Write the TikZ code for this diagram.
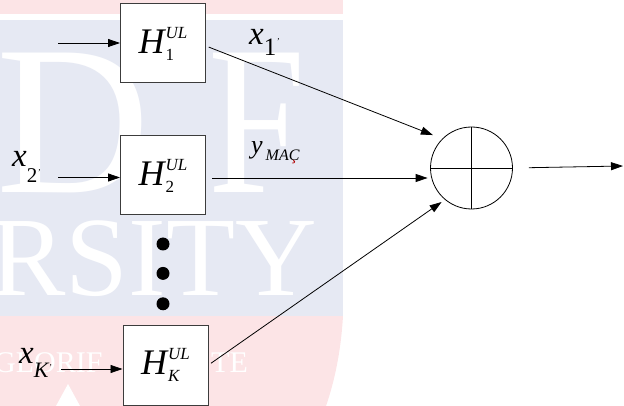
\documentclass[tikz,border=0pt]{standalone}
\usepackage{fontspec}
\setmainfont{Liberation Serif}
\usetikzlibrary{arrows.meta,positioning}

\definecolor{wmblue}{RGB}{230,233,243}
\definecolor{wmpink}{RGB}{252,228,230}
\definecolor{boxgray}{RGB}{60,60,60}

\newcommand{\bigsize}{\fontsize{36}{36}\selectfont}
\newcommand{\smallsize}{\fontsize{17}{17}\selectfont}
\newcommand{\xsize}{\fontsize{33}{33}\selectfont}
\newcommand{\hul}[1]{{\bigsize\itshape H}\kern1pt\rlap{\raisebox{-7pt}{\smallsize #1}}\raisebox{15pt}{\smallsize\itshape UL}}
\newcommand{\tick}{{\fontsize{9}{9}\selectfont\itshape '}}

\begin{document}
\begin{tikzpicture}[x=1pt, y=-1pt,
  block/.style={rectangle, draw=boxgray, fill=white, line width=1pt, minimum width=85pt, minimum height=79pt, inner sep=0pt},
  line/.style={draw, line width=0.8pt, -{Triangle[length=12pt,width=8pt]}},
  dot/.style={circle, fill=black, minimum size=13pt, inner sep=0pt},
  lab/.style={anchor=base west, inner sep=0pt},
  wm/.style={text=white, inner sep=0pt, anchor=base west}]

  \useasboundingbox (0,0) rectangle (624,406);

  % watermark behind the diagram
  \begin{scope}
    \clip (0,0) rectangle (624,406);
    \fill[wmpink] (0,0) rectangle (343,14);
    \fill[wmblue] (0,20) rectangle (343,316);
    \fill[wmpink] (0,316) -- (343,316) .. controls (341,350) and (335,380) .. (326,406) -- (0,406) -- cycle;
    \fill[white] (68,384) -- (80,406) -- (56,406) -- cycle;
    \node[wm, font=\fontsize{213}{213}\selectfont] (wmd) at (-4,193) {D};
    \node[wm, font=\fontsize{213}{213}\selectfont] (wmf) at (208,193) {\scalebox{0.82}[1]{F}};
    \node[wm, font=\fontsize{113}{113}\selectfont] (wmrsity) at (-10,295) {RSITY};
    \node[wm, font=\fontsize{30}{30}\selectfont] (wmglorif) at (-6,372) {GLORIF};
    \node[wm, font=\fontsize{30}{30}\selectfont] (wmte) at (211,372) {TE};
  \end{scope}

  \node[block] (h1) at (163,43.5) {\hul{1}};
  \node[block, below=52pt of h1] (h2) {\hul{2}};
  \node[dot] (d1) at (163,244) {};
  \node[dot, below=16pt of d1] (d2) {};
  \node[dot, below=17pt of d2] (d3) {};
  \node[block, minimum height=80pt] (hk) at (165.5,365) {\hul{\itshape K}};
  \node[circle, draw, line width=0.8pt, minimum size=82pt, inner sep=0pt] (sum) at (471.5,168) {};

  \coordinate (in1) at (58,43);
  \coordinate (in2) at (58,177.5);
  \coordinate (ink) at (61,369);
  \coordinate (out) at (623,166);

  % labels
  \node[lab] (x1) at (249,45) {\xsize\itshape x\upshape\raisebox{-11pt}{\fontsize{25}{25}\selectfont 1}\raisebox{0pt}{\tick}};
  \node[lab] (x2) at (12,167) {\xsize\itshape x\upshape\raisebox{-16pt}{\fontsize{21}{21}\selectfont 2}\raisebox{-9pt}{\tick}};
  \node[lab] (xk) at (19,363) {\xsize\itshape x\raisebox{-14pt}{\fontsize{22}{22}\selectfont K}\raisebox{-7pt}{\tick}};
  \node[lab] (ymac) at (251,154) {\fontsize{26}{26}\selectfont\itshape y\kern3pt\raisebox{-7pt}{\fontsize{16}{16}\selectfont MAC\llap{\textcolor{red!70!black}{\char"00B8}\kern3pt}}};

  % connectors
  \draw[line] (in1) -- (in1 -| h1.west);
  \draw[line] (in2) -- (in2 -| h2.west);
  \draw[line] (ink) -- (ink -| hk.west);
  \draw[line, shorten <=3pt, shorten >=10pt] ([yshift=-2.5pt]h1.east) -- (sum.135);
  \draw[line, shorten <=6pt, shorten >=2.5pt] ([yshift=-2.5pt]h2.east) -- ([yshift=-2.5pt]h2.east -| sum.west);
  \draw[line, shorten <=3pt, shorten >=4pt] (hk.east) -- (sum.230);
  \draw (sum.north) -- (sum.south);
  \draw (sum.west) -- (sum.east);
  \draw[line, shorten <=16pt] (sum.east) -- (out);
\end{tikzpicture}
\end{document}
